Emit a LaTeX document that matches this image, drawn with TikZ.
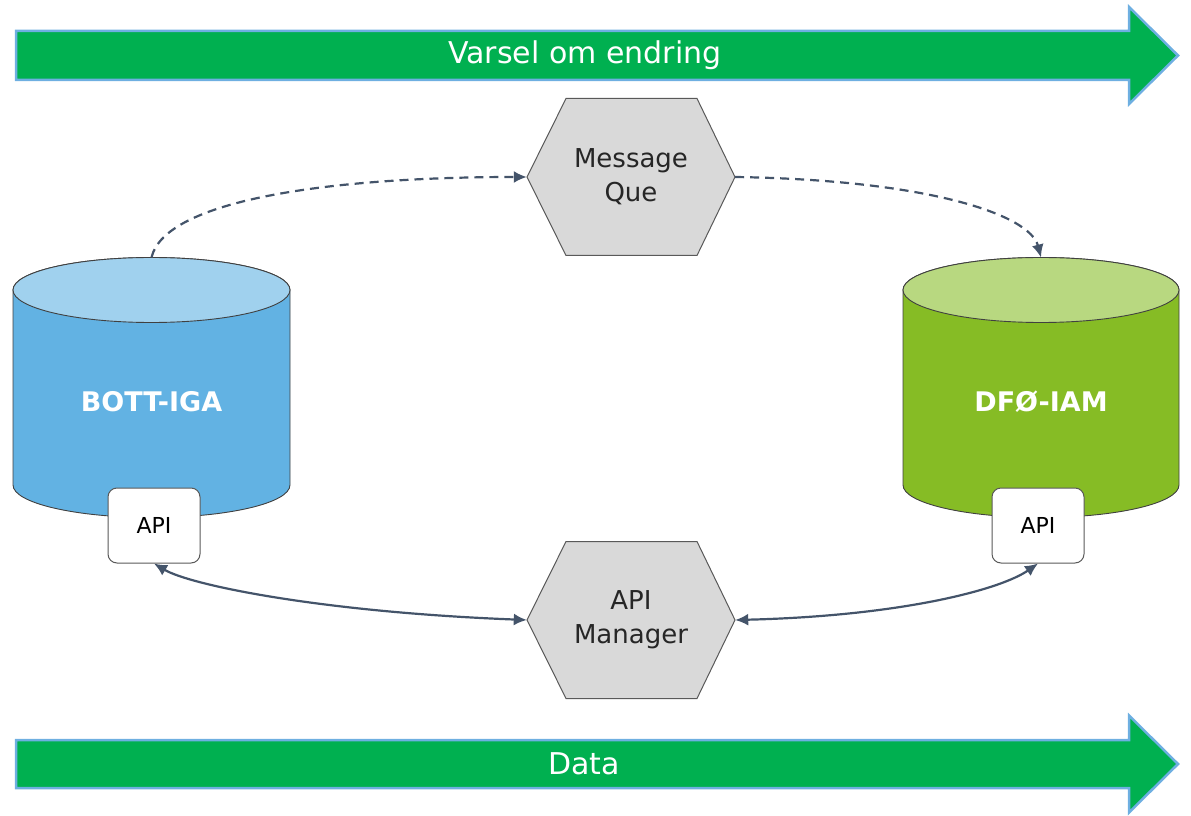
\documentclass[tikz,border=0pt]{standalone}
\usepackage{fontspec}
\setmainfont{DejaVu Sans}
\usetikzlibrary{arrows.meta}
\definecolor{arrowgreen}{RGB}{0,176,80}
\definecolor{arrowedge}{RGB}{110,175,225}
\definecolor{bluebody}{RGB}{98,178,227}
\definecolor{bluetop}{RGB}{160,209,238}
\definecolor{greenbody}{RGB}{134,188,37}
\definecolor{greentop}{RGB}{184,216,128}
\definecolor{outline}{RGB}{64,64,64}
\definecolor{hexfill}{RGB}{217,217,217}
\definecolor{hexedge}{RGB}{89,89,89}
\definecolor{conn}{RGB}{68,84,106}
\definecolor{darktext}{RGB}{38,38,38}
\tikzset{
  bigarrow/.style={fill=arrowgreen, draw=arrowedge, line width=2.5pt, line join=miter},
  bigtext/.style={text=white, font=\fontsize{30}{36}\selectfont},
  cyl/.style={draw=outline, line width=0.9pt},
  cyltext/.style={text=white, font=\bfseries\fontsize{27}{32}\selectfont},
  hexshape/.style={fill=hexfill, draw=hexedge, line width=1pt, line join=miter},
  hexnode/.style={minimum width=208pt, minimum height=157pt, inner sep=0pt, align=center, text=darktext, font=\fontsize{26}{34}\selectfont},
  apibox/.style={draw=hexedge, fill=white, line width=1pt, rounded corners=9pt, minimum width=92pt, minimum height=75pt, inner sep=0pt, font=\fontsize{22}{26}\selectfont},
  dashconn/.style={draw=conn, line width=2.2pt, dash pattern=on 9pt off 6pt, -{Latex[length=13pt,width=12pt]}},
  solidconn/.style={draw=conn, line width=2.2pt, {Latex[length=13pt,width=12pt]}-{Latex[length=13pt,width=12pt]}}
}
\begin{document}
\begin{tikzpicture}[x=1pt,y=1pt]
\useasboundingbox (0,0) rectangle (1191,815);
% big arrows
\path[bigarrow] (16,735) -- (1129,735) -- (1129,711) -- (1178,759.5) -- (1129,808) -- (1129,784) -- (16,784) -- cycle;
\node[bigtext] (varsel) at (585,759.5) {Varsel om endring};
\path[bigarrow] (16,27) -- (1129,27) -- (1129,2.5) -- (1178,51) -- (1129,99.5) -- (1129,75) -- (16,75) -- cycle;
\node[bigtext] (data) at (584,51) {Data};
% cylinders
\path[cyl, fill=bluebody] (13,525) -- (13,330) arc[start angle=180, end angle=360, x radius=138.5, y radius=32.5] -- (290,525) arc[start angle=0, end angle=180, x radius=138.5, y radius=32.5] -- cycle;
\path[cyl, fill=bluetop] (151.5,525) ellipse[x radius=138.5, y radius=32.5];
\coordinate (botttop) at (151.5,557.5);
\node[cyltext] (bott) at (151.5,413) {BOTT-IGA};
\path[cyl, fill=greenbody] (903,525) -- (903,330) arc[start angle=180, end angle=360, x radius=138, y radius=32.5] -- (1179,525) arc[start angle=0, end angle=180, x radius=138, y radius=32.5] -- cycle;
\path[cyl, fill=greentop] (1041,525) ellipse[x radius=138, y radius=32.5];
\coordinate (dfotop) at (1041,557.5);
\node[cyltext] (dfo) at (1041,413) {DFØ-IAM};
% API boxes
\node[apibox] (apil) at (154,289.5) {API};
\node[apibox] (apir) at (1038,289.5) {API};
% hexagons
\path[hexshape] (527,638) -- (566,716.5) -- (697,716.5) -- (735,638) -- (697,559.5) -- (566,559.5) -- cycle;
\node[hexnode] (mq) at (631,638) {Message\\Que};
\path[hexshape] (527,195) -- (566,273.5) -- (697,273.5) -- (735,195) -- (697,116.5) -- (566,116.5) -- cycle;
\node[hexnode] (am) at (631,195) {API\\Manager};
% connectors
\draw[dashconn] (botttop) .. controls (165,615) and (330,638) .. (mq.west);
\draw[dashconn] (mq.east) .. controls (930,635) and (1030,600) .. (dfotop);
\draw[solidconn] (apil.south) .. controls (190,230) and (320,203) .. (am.west);
\draw[solidconn] (am.east) .. controls (900,199) and (1000,225) .. (apir.south);
\end{tikzpicture}
\end{document}
